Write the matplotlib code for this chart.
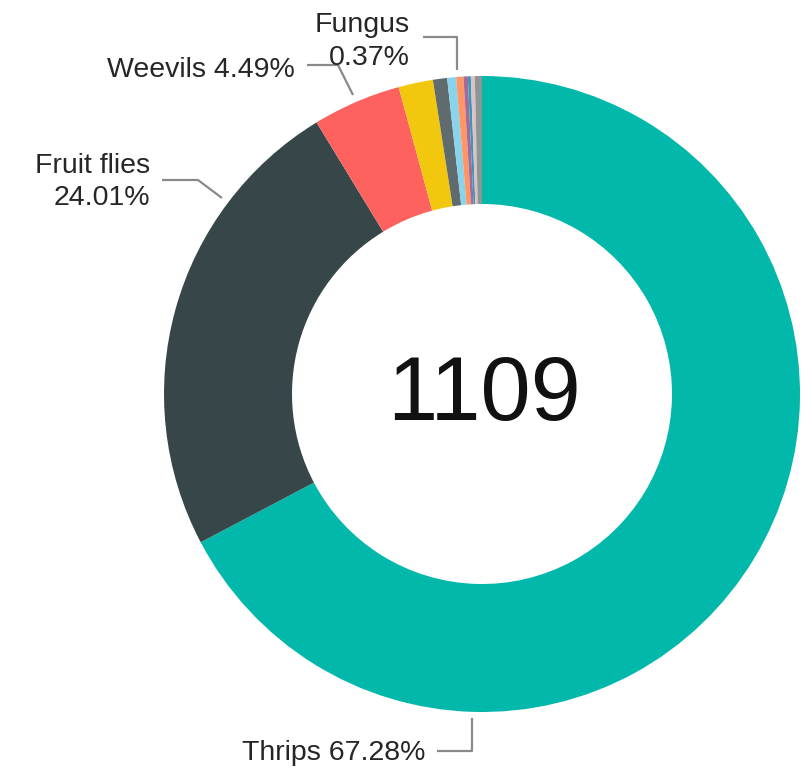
import matplotlib
matplotlib.use("Agg")
import matplotlib.pyplot as plt

# Pest share (%), clockwise from 12 o'clock; small unnamed slices have no label
categories = ["Thrips", "Fruit flies", "Weevils", "", "", "", "Fungus", "", "", "", ""]
shares = [67.28, 24.01, 4.49, 1.75, 0.72, 0.45, 0.37, 0.22, 0.15, 0.20, 0.36]
total_count = 1109

colors = ["#01B8AA", "#374649", "#FD625E", "#F2C80F", "#5F6B6D", "#8AD4EB",
          "#FE9666", "#A66999", "#3599B8", "#DFBFBF", "#8C9696"]

W, H = 804, 767
fig = plt.figure(figsize=(W / 100, H / 100), dpi=100)
ax = fig.add_axes([0, 0, 1, 1])


def py(y):
    # pixel row -> data y
    return H - y


cx, cy, R, ring = 482, py(394), 318, 128
ax.pie(shares, colors=colors, startangle=90, counterclock=False,
       radius=R, center=(cx, cy),
       wedgeprops=dict(width=ring, edgecolor="none", linewidth=0))
ax.set_xlim(0, W)
ax.set_ylim(0, H)
ax.set_aspect("auto")
ax.axis("off")

# centre value
ax.text(484, py(420), str(total_count), ha="center", va="baseline",
        fontsize=65, color="#111111",
        family=["Liberation Sans Narrow", "Liberation Sans", "DejaVu Sans"])

lab_font = dict(fontsize=20.5, color="#262626",
                family=["Liberation Sans", "DejaVu Sans"])
line_kw = dict(color="#8a8a8a", lw=1.6, solid_capstyle="butt")

pct = {c: s for c, s in zip(categories, shares) if c}

# Thrips
ax.plot([472, 472, 437], [py(718), py(751), py(751)], **line_kw)
ax.text(425, py(760), f"Thrips {pct['Thrips']:.2f}%", ha="right",
        va="baseline", **lab_font)

# Fruit flies
ax.plot([222, 198, 162], [py(198), py(180), py(180)], **line_kw)
ax.text(150, py(173), "Fruit flies", ha="right", va="baseline", **lab_font)
ax.text(150, py(205), f"{pct['Fruit flies']:.2f}%", ha="right",
        va="baseline", **lab_font)

# Weevils
ax.plot([353, 338, 307], [py(95), py(65), py(65)], **line_kw)
ax.text(295, py(77), f"Weevils {pct['Weevils']:.2f}%", ha="right",
        va="baseline", **lab_font)

# Fungus
ax.plot([457, 457, 423], [py(70), py(37), py(37)], **line_kw)
ax.text(410, py(32), "Fungus", ha="right", va="baseline", **lab_font)
ax.text(410, py(65), f"{pct['Fungus']:.2f}%", ha="right", va="baseline",
        **lab_font)

fig.savefig("out.png", dpi=100, facecolor="white")
